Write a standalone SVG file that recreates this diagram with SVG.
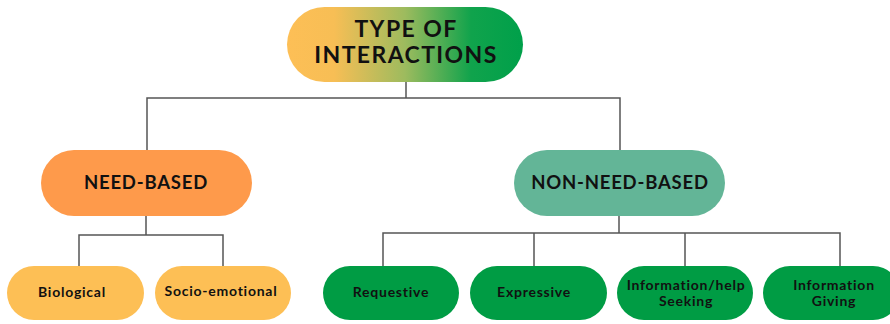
<svg xmlns="http://www.w3.org/2000/svg" width="890" height="324" viewBox="0 0 890 324">
<defs>
<linearGradient id="g" x1="0" y1="0" x2="1" y2="0">
<stop offset="0" stop-color="#FDBF56"/>
<stop offset="0.2" stop-color="#F7BE55"/>
<stop offset="0.5" stop-color="#9DBB5E"/>
<stop offset="0.78" stop-color="#10A34C"/>
<stop offset="1" stop-color="#00A04A"/>
</linearGradient>
</defs>
<style>
text{font-family:Lato,"Open Sans","Liberation Sans",sans-serif;font-weight:700;fill:#111;text-anchor:middle}
.t{font-size:23px;letter-spacing:1.4px}
.m{font-size:18.5px;letter-spacing:0.8px}
.s{font-size:14px;letter-spacing:0.75px}
.c{fill:none;stroke:#555;stroke-width:1.5}
.y{fill:#FDBF55}
.gr{fill:#009C44}
</style>
<rect width="890" height="324" fill="#fff"/>
<g id="connectors">
<path class="c" d="M406 82V98M147 150V98H620V150"/>
<path class="c" d="M146 216V235M79 266V235H223V266"/>
<path class="c" d="M619 216V233M383 266V233H840V266M534 233V266M685 233V266"/>
</g>
<g id="root">
<rect x="287" y="7" width="236" height="75" rx="37.5" fill="url(#g)"/>
<text class="t" x="406" y="37">TYPE OF</text>
<text class="t" x="406" y="63">INTERACTIONS</text>
</g>
<g id="need">
<rect x="41" y="150" width="211" height="66" rx="33" fill="#FE9A4B"/>
<text class="m" x="146" y="189">NEED-BASED</text>
</g>
<g id="nonneed">
<rect x="514" y="150" width="211" height="66" rx="33" fill="#63B597"/>
<text class="m" x="620" y="189">NON-NEED-BASED</text>
</g>
<g id="bio">
<rect class="y" x="7" y="266" width="137" height="54" rx="27"/>
<text class="s" x="72" y="297">Biological</text>
</g>
<g id="socio">
<rect class="y" x="155" y="266" width="136" height="54" rx="27"/>
<text class="s" x="221" y="296">Socio-emotional</text>
</g>
<g id="req">
<rect class="gr" x="323" y="266" width="136" height="54" rx="27"/>
<text class="s" x="391" y="297">Requestive</text>
</g>
<g id="expr">
<rect class="gr" x="470" y="266" width="137" height="54" rx="27"/>
<text class="s" x="534" y="297">Expressive</text>
</g>
<g id="seek">
<rect class="gr" x="617" y="266" width="136" height="54" rx="27"/>
<text class="s" x="686" y="290">Information/help</text>
<text class="s" x="686" y="306">Seeking</text>
</g>
<g id="give">
<rect class="gr" x="763" y="266" width="137" height="54" rx="27"/>
<text class="s" x="834" y="290">Information</text>
<text class="s" x="834" y="306">Giving</text>
</g>
</svg>
